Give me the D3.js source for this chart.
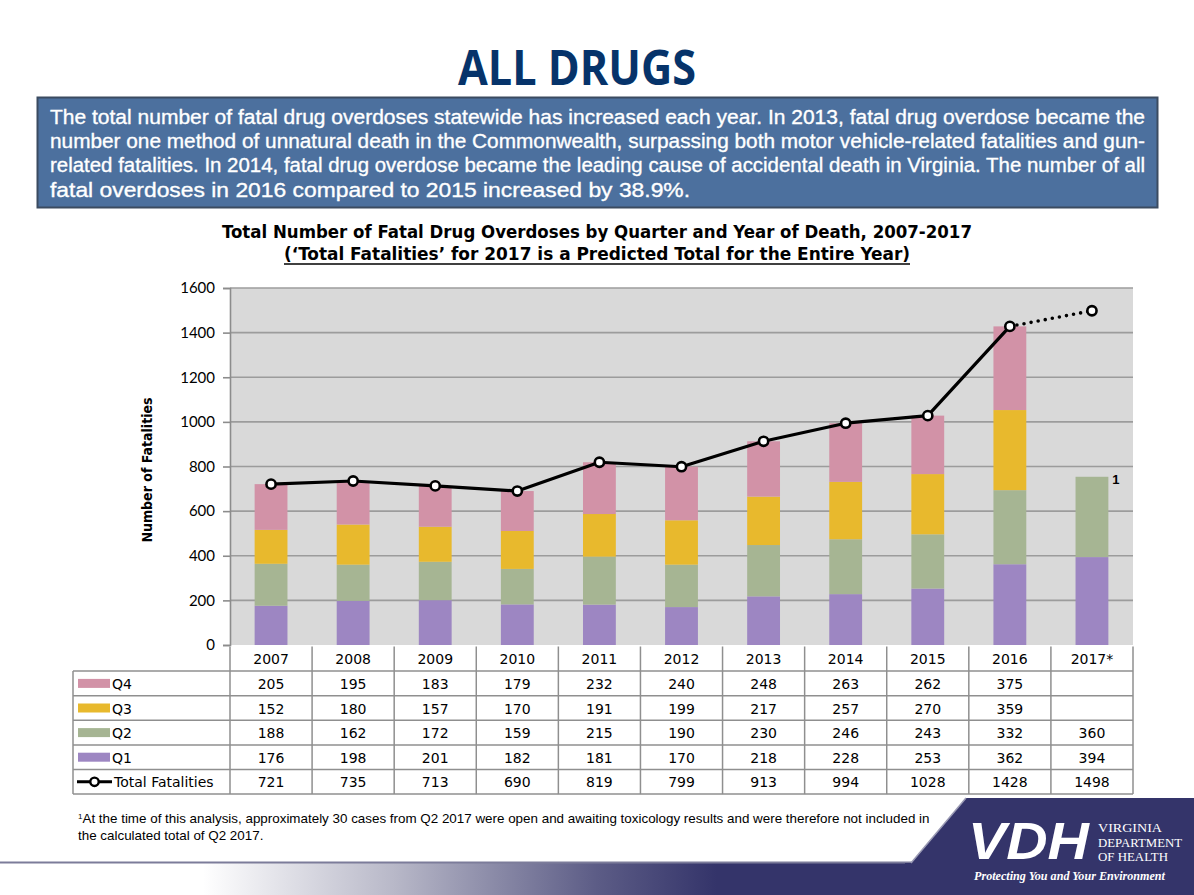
<!DOCTYPE html>
<html><head><meta charset="utf-8">
<script src="https://cdn.jsdelivr.net/npm/d3@7"></script>
<style>
html,body{margin:0;padding:0;background:#fff;}
svg{display:block;}
</style></head><body>
<svg id="chart" width="1194" height="895"></svg>
<script>
const years = ["2007","2008","2009","2010","2011","2012","2013","2014","2015","2016","2017*"];
const q1 = [176,198,201,182,181,170,218,228,253,362,394];
const q2 = [188,162,172,159,215,190,230,246,243,332,360];
const q3 = [152,180,157,170,191,199,217,257,270,359,null];
const q4 = [205,195,183,179,232,240,248,263,262,375,null];
const totals = [721,735,713,690,819,799,913,994,1028,1428,1498];
const yTicks = [0,200,400,600,800,1000,1200,1400,1600];
const seriesNames = ["Q1","Q2","Q3","Q4"];
const colors = {Q1:"#9d86c2",Q2:"#a6b593",Q3:"#e8b92d",Q4:"#d292a7"};
const paragraph = [
  "The total number of fatal drug overdoses statewide has increased each year. In 2013, fatal drug overdose became the",
  "number one method of unnatural death in the Commonwealth, surpassing both motor vehicle-related fatalities and gun-",
  "related fatalities. In 2014, fatal drug overdose became the leading cause of accidental death in Virginia. The number of all",
  "fatal overdoses in 2016 compared to 2015 increased by 38.9%."
];

const svg = d3.select("#chart");
const L=230, R=1133, T=288, B=645;
const x = d3.scaleBand().domain(years).range([L,R]).paddingInner(0.6).paddingOuter(0.3);
const step = x.step();
const y = d3.scaleLinear().domain([0,1600]).range([B,T]);
const sans = "'Liberation Sans',Arial,sans-serif";
const serif = "'Liberation Serif','DejaVu Serif',serif";

// title
svg.append("text").attr("x",577).attr("y",85).attr("text-anchor","middle")
  .attr("font-family","'Open Sans','DejaVu Sans',sans-serif").attr("font-weight","bold")
  .attr("font-size",48).attr("fill","#06336a").attr("textLength",238).attr("lengthAdjust","spacingAndGlyphs").text("ALL DRUGS");
// text box
svg.append("rect").attr("x",37.5).attr("y",97.5).attr("width",1120).attr("height",110)
  .attr("fill","#4c709e").attr("stroke","#3b4b60").attr("stroke-width",2);
const lineWidths = [1095,1095,1095,640];
svg.append("g").selectAll("text").data(paragraph).join("text")
  .attr("x",50).attr("y",(d,i)=>123.5+i*24.4)
  .attr("font-family",sans).attr("font-size",20.5).attr("fill","#fff")
  .attr("stroke","#fff").attr("stroke-width",0.35)
  .attr("textLength",(d,i)=>lineWidths[i]).attr("lengthAdjust","spacingAndGlyphs")
  .text(d=>d);

// chart titles
const tf = "'DejaVu Sans Condensed','DejaVu Sans',sans-serif";
svg.append("text").attr("x",597).attr("y",238).attr("text-anchor","middle")
  .attr("font-family",tf).attr("font-weight","bold").attr("font-size",17.5).attr("fill","#000")
  .attr("textLength",750).attr("lengthAdjust","spacingAndGlyphs")
  .text("Total Number of Fatal Drug Overdoses by Quarter and Year of Death, 2007-2017");
svg.append("text").attr("x",597).attr("y",260).attr("text-anchor","middle")
  .attr("font-family",tf).attr("font-weight","bold").attr("font-size",17.5).attr("fill","#000")
  .attr("textLength",626).attr("lengthAdjust","spacingAndGlyphs")
  .text("(‘Total Fatalities’ for 2017 is a Predicted Total for the Entire Year)");
svg.append("line").attr("x1",284).attr("x2",910).attr("y1",264).attr("y2",264).attr("stroke","#000").attr("stroke-width",1.5);

// plot background
svg.append("rect").attr("x",L).attr("y",T).attr("width",R-L).attr("height",B-T).attr("fill","#d9d9d9");
// gridlines
svg.append("g").selectAll("line").data(yTicks.filter(d=>d>0)).join("line")
  .attr("x1",L).attr("x2",R).attr("y1",d=>y(d)).attr("y2",d=>y(d))
  .attr("stroke","#9c9c9c").attr("stroke-width",1.6);
// y axis
const yAxis = d3.axisLeft(y).tickValues(yTicks).tickSize(7).tickPadding(8).tickFormat(d3.format("d"));
const ga = svg.append("g").attr("transform",`translate(${L},0)`).call(yAxis);
ga.select(".domain").attr("stroke","#8c8c8c").attr("stroke-width",1.6);
ga.selectAll(".tick line").attr("stroke","#8c8c8c").attr("stroke-width",1.6);
ga.selectAll(".tick text").attr("font-family","Lato,'Open Sans',sans-serif").attr("font-size",15).attr("fill","#000");
svg.append("text").attr("transform","translate(152,470) rotate(-90)").attr("text-anchor","middle")
  .attr("font-family",tf).attr("font-weight","bold").attr("font-size",14).attr("fill","#000")
  .text("Number of Fatalities");

// stacked bars
const rows = years.map((yr,i)=>({year:yr,Q1:q1[i],Q2:q2[i],Q3:q3[i]||0,Q4:q4[i]||0}));
const stack = d3.stack().keys(seriesNames)(rows);
svg.append("g").selectAll("g").data(stack).join("g").attr("fill",d=>colors[d.key])
  .selectAll("rect").data(d=>d).join("rect")
  .attr("x",d=>x(d.data.year)).attr("width",x.bandwidth())
  .attr("y",d=>y(d[1])).attr("height",d=>Math.max(0,y(d[0])-y(d[1])));

// total line
const cx = i=>x(years[i])+x.bandwidth()/2;
const solid = d3.line().x((d,i)=>cx(i)).y(d=>y(d));
svg.append("path").attr("d",solid(totals.slice(0,10))).attr("fill","none").attr("stroke","#000").attr("stroke-width",3.2).attr("stroke-linejoin","round");
svg.append("path").attr("d",d3.line().x(d=>cx(d[0])).y(d=>y(d[1]))([[9,totals[9]],[10,totals[10]]]))
  .attr("fill","none").attr("stroke","#000").attr("stroke-width",3.6).attr("stroke-linecap","round").attr("stroke-dasharray","0 7.2");
svg.append("g").selectAll("circle").data(totals).join("circle")
  .attr("cx",(d,i)=>cx(i)).attr("cy",d=>y(d)).attr("r",4.6)
  .attr("fill","#fff").attr("stroke","#000").attr("stroke-width",2.6);
// footnote marker
svg.append("text").attr("x",x("2017*")+x.bandwidth()+4).attr("y",y(q1[10]+q2[10])+7)
  .attr("font-family",sans).attr("font-weight","bold").attr("font-size",13).text("1");

// data table
const rowH = 24.6, tTop = B+1.5;
const tableRows = [
  {name:"Q4",vals:q4,type:"bar"},
  {name:"Q3",vals:q3,type:"bar"},
  {name:"Q2",vals:q2,type:"bar"},
  {name:"Q1",vals:q1,type:"bar"},
  {name:"Total Fatalities",vals:totals,type:"line"}
];
const tg = svg.append("g");
const gridC = "#8f8f8f";
const tableBottom = tTop + rowH*6;
for(let r=1;r<=6;r++){
  tg.append("line").attr("x1",73).attr("x2",R).attr("y1",tTop+rowH*r).attr("y2",tTop+rowH*r).attr("stroke",gridC).attr("stroke-width",1.5);
}
tg.append("line").attr("x1",73).attr("x2",73).attr("y1",tTop+rowH).attr("y2",tableBottom).attr("stroke",gridC).attr("stroke-width",1.5);
years.forEach((yr,i)=>{
  const xx = L + i*step;
  tg.append("line").attr("x1",xx).attr("x2",xx).attr("y1",tTop).attr("y2",tableBottom).attr("stroke",gridC).attr("stroke-width",1.5);
});
tg.append("line").attr("x1",R).attr("x2",R).attr("y1",tTop).attr("y2",tableBottom).attr("stroke",gridC).attr("stroke-width",1.5);
const cellFont = "'DejaVu Sans',Verdana,sans-serif";
tg.selectAll("text.hdr").data(years).join("text").attr("class","hdr")
  .attr("x",d=>x(d)+x.bandwidth()/2).attr("y",tTop+rowH/2+5.5).attr("text-anchor","middle")
  .attr("font-family",cellFont).attr("font-size",14).attr("fill","#000").text(d=>d);
tableRows.forEach((row,r)=>{
  const cy = tTop + rowH*(r+1) + rowH/2;
  if(row.type==="bar"){
    tg.append("rect").attr("x",78).attr("y",cy-4.5).attr("width",32).attr("height",9).attr("fill",colors[row.name]);
  } else {
    tg.append("line").attr("x1",77).attr("x2",112).attr("y1",cy).attr("y2",cy).attr("stroke","#000").attr("stroke-width",3);
    tg.append("circle").attr("cx",94.5).attr("cy",cy).attr("r",4.2).attr("fill","#fff").attr("stroke","#000").attr("stroke-width",2.4);
  }
  tg.append("text").attr("x",row.type==="bar"?112:114).attr("y",cy+5.5)
    .attr("font-family",cellFont).attr("font-size",14).attr("fill","#000").text(row.name);
  tg.selectAll(null).data(row.vals).join("text")
    .attr("x",(d,i)=>x(years[i])+x.bandwidth()/2).attr("y",cy+5.5).attr("text-anchor","middle")
    .attr("font-family",cellFont).attr("font-size",14).attr("fill","#000")
    .text(d=>d==null?"":d);
});

// footnote
const fn = svg.append("text").attr("x",78).attr("y",823).attr("font-family",sans).attr("font-size",13.4).attr("fill","#000");
fn.append("tspan").attr("font-size",8).attr("dy",-4).text("1");
fn.append("tspan").attr("dy",4).text("At the time of this analysis, approximately 30 cases from Q2 2017 were open and awaiting toxicology results and were therefore not included in");
svg.append("text").attr("x",78).attr("y",840).attr("font-family",sans).attr("font-size",13.4).attr("fill","#000")
  .text("the calculated total of Q2 2017.");

// bottom band
const defs = svg.append("defs");
const grad = defs.append("linearGradient").attr("id","band").attr("x1","0").attr("x2","1").attr("y1","0").attr("y2","0");
grad.append("stop").attr("offset","0.17").attr("stop-color","#ffffff");
grad.append("stop").attr("offset","0.33").attr("stop-color","#b8b8c8");
grad.append("stop").attr("offset","0.5").attr("stop-color","#5c5c86");
grad.append("stop").attr("offset","0.6").attr("stop-color","#34346a");
grad.append("stop").attr("offset","1").attr("stop-color","#34346a");
svg.append("rect").attr("x",0).attr("y",863).attr("width",1194).attr("height",32).attr("fill","url(#band)");
svg.append("line").attr("x1",0).attr("x2",1194).attr("y1",862.5).attr("y2",862.5).attr("stroke","#7c7c9a").attr("stroke-width",2);
svg.append("path").attr("d","M966,798 L1194,798 L1194,895 L905,895 L905,863 L911,863 Z").attr("fill","#34346a");
svg.append("line").attr("x1",966).attr("y1",798).attr("x2",911).attr("y2",863).attr("stroke","#9a9ab4").attr("stroke-width",1.5);
svg.append("text").attr("x",968).attr("y",859).attr("font-family",sans).attr("font-style","italic").attr("font-weight","bold")
  .attr("font-size",52).attr("fill","#fff").attr("textLength",121).attr("lengthAdjust","spacingAndGlyphs").text("VDH");
const logoLines = ["VIRGINIA","DEPARTMENT","OF HEALTH"], logoW = [64,84,70];
logoLines.forEach((t,i)=>{
  svg.append("text").attr("x",1098).attr("y",832+i*14.5).attr("font-family",serif)
    .attr("font-size",13.5).attr("fill","#fff").attr("textLength",logoW[i]).attr("lengthAdjust","spacingAndGlyphs").text(t);
});
svg.append("text").attr("x",974).attr("y",880).attr("font-family",serif).attr("font-style","italic").attr("font-weight","bold")
  .attr("font-size",11.5).attr("fill","#fff").attr("textLength",191).attr("lengthAdjust","spacingAndGlyphs").text("Protecting You and Your Environment");
</script></body></html>
